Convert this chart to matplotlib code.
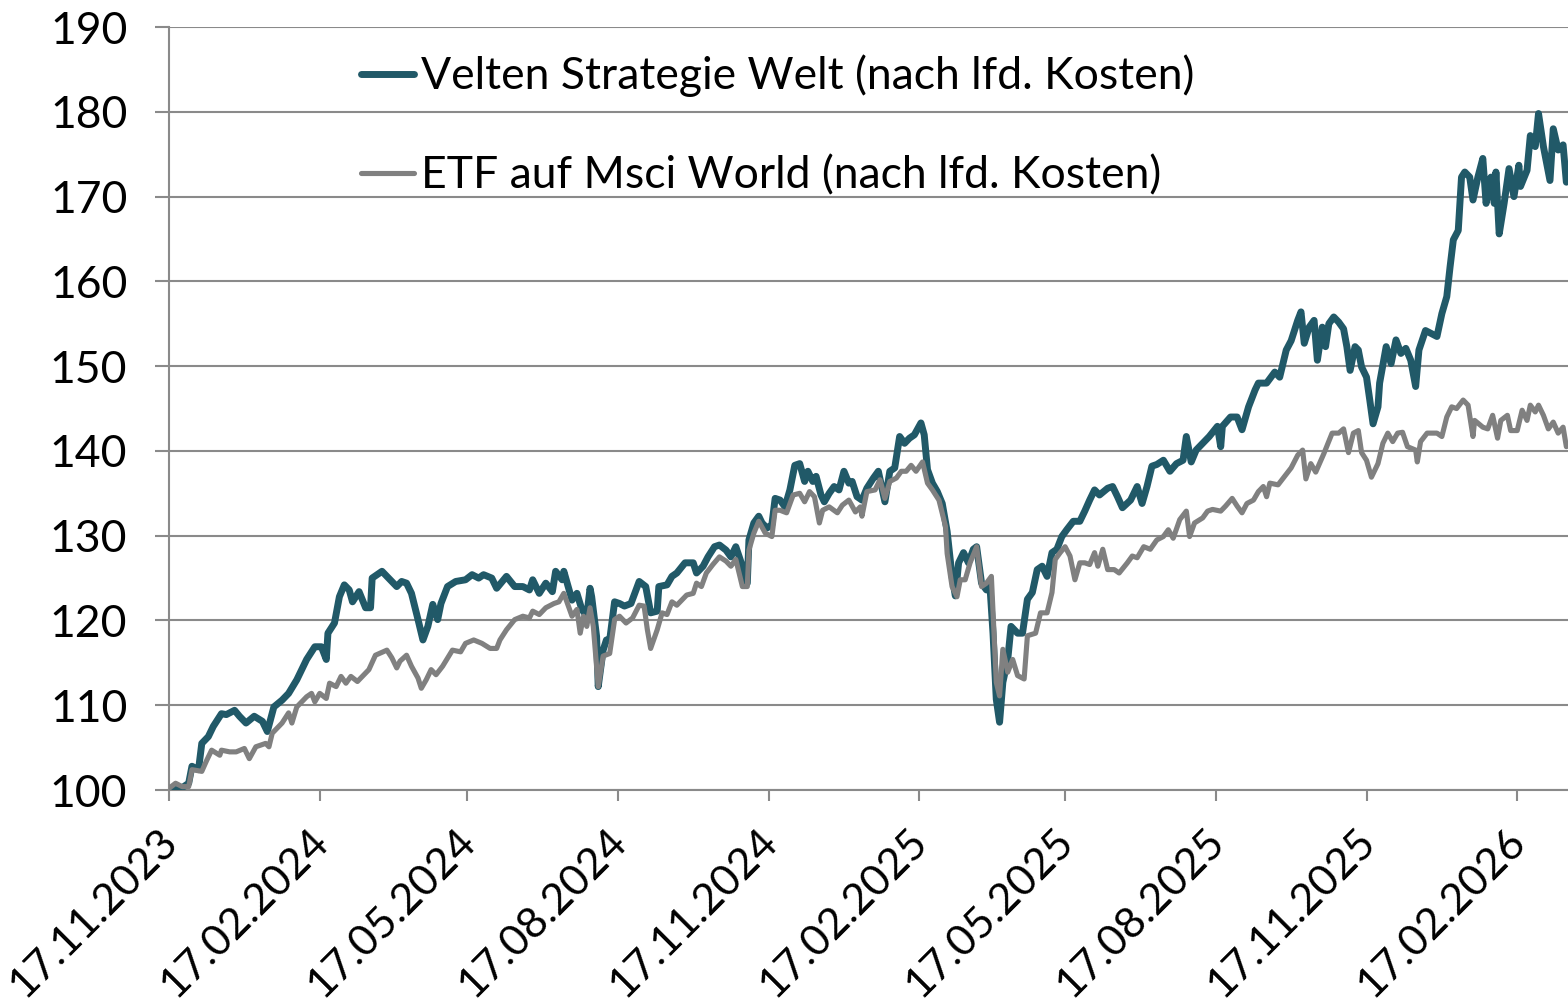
import pandas as pd
import matplotlib
matplotlib.use("Agg")
import matplotlib.pyplot as plt
import matplotlib.dates as mdates
from matplotlib.transforms import ScaledTranslation

plt.rcParams['font.family'] = ['Lato', 'DejaVu Sans']

start = pd.Timestamp('2023-11-17')

# Velten Strategie Welt: Tage seit 17.11.2023 und Indexwerte
velten_tage = [0, 6, 12, 14, 18, 20, 24, 27, 32, 35, 40, 43, 47, 52, 57, 60, 64, 69, 73, 78,
               84, 89, 93, 96, 97, 101, 104, 107, 110, 112, 116, 120, 123, 124, 130, 134, 139,
               142, 145, 148, 152, 155, 158, 161, 164, 166, 170, 175, 181, 185, 189, 192, 197,
               200, 206, 211, 216, 220, 222, 226, 230, 234, 236, 240, 241, 246, 249, 252, 255,
               257, 258, 261, 262, 265, 267, 269, 272, 275, 278, 282, 287, 291, 294, 298, 299,
               304, 307, 310, 315, 320, 322, 326, 329, 333, 336, 340, 343, 346, 350, 351, 353,
               354, 357, 360, 362, 365, 368, 370, 373, 376, 379, 382, 385, 388, 390, 393, 395,
               398, 400, 403, 406, 409, 412, 415, 417, 420, 423, 426, 430, 433, 437, 440, 443,
               446, 449, 452, 455, 459, 461, 463, 466, 469, 472, 475, 478, 480, 482, 485, 488,
               491, 493, 496, 499, 501, 503, 505, 507, 509, 512, 514, 518, 521, 524, 527, 530,
               533, 536, 539, 542, 545, 548, 552, 556, 559, 562, 565, 568, 573, 576, 579, 582,
               587, 591, 594, 597, 600, 603, 607, 611, 615, 619, 621, 624, 627, 631, 635, 640,
               642, 643, 648, 652, 655, 659, 663, 665, 670, 675, 678, 682, 685, 689, 691, 693,
               696, 699, 701, 704, 706, 708, 711, 714, 717, 719, 721, 724, 726, 728, 731, 733,
               735, 738, 739, 743, 746, 749, 752, 755, 758, 761, 763, 767, 771, 774, 777, 780,
               782, 784, 787, 789, 791, 794, 796, 799, 802, 804, 807, 809, 810, 812, 815, 818,
               821, 824, 825, 829, 831, 834, 836, 839, 843, 845, 848, 851, 853]
velten_werte = [100.2, 100.0, 100.8, 102.8, 102.4, 105.5, 106.3, 107.5, 109.0, 108.9, 109.4,
                108.7, 107.9, 108.7, 108.1, 106.9, 109.8, 110.6, 111.4, 113.0, 115.4, 116.9,
                116.9, 115.4, 118.5, 119.7, 122.8, 124.2, 123.6, 122.2, 123.4, 121.5, 121.5,
                125.0, 125.8, 125.0, 124.0, 124.6, 124.4, 123.2, 120.1, 117.7, 119.3, 121.9,
                120.1, 122.0, 124.0, 124.6, 124.8, 125.4, 125.0, 125.4, 125.0, 123.8, 125.2,
                124.0, 124.0, 123.6, 124.8, 123.2, 124.4, 123.4, 125.8, 124.8, 125.8, 122.4,
                123.2, 121.3, 120.5, 123.8, 122.8, 118.1, 112.2, 116.5, 117.7, 117.7, 122.2,
                122.0, 121.7, 122.0, 124.6, 124.0, 120.9, 121.1, 124.0, 124.2, 125.2, 125.6,
                126.8, 126.8, 125.6, 126.4, 127.5, 128.7, 128.9, 128.3, 127.5, 128.7, 126.4,
                124.4, 124.4, 129.5, 131.5, 132.3, 131.5, 130.9, 131.3, 134.4, 134.2, 133.4,
                135.4, 138.3, 138.5, 136.4, 137.6, 136.4, 137.0, 134.8, 134.0, 135.0, 135.8,
                135.4, 137.6, 136.2, 136.4, 134.6, 134.2, 135.6, 136.8, 137.6, 134.0, 137.6,
                138.0, 141.7, 140.9, 141.5, 141.9, 143.3, 141.9, 137.8, 136.2, 135.2, 133.8,
                130.5, 125.2, 122.9, 126.8, 128.0, 126.8, 128.4, 128.7, 124.4, 123.6, 124.4,
                118.5, 110.7, 108.0, 112.7, 115.4, 119.3, 118.5, 118.5, 122.5, 123.3, 126.0,
                126.4, 125.2, 128.0, 128.4, 129.9, 130.7, 131.7, 131.7, 132.9, 134.2, 135.4,
                134.8, 135.6, 135.8, 134.6, 133.3, 134.2, 135.8, 133.8, 135.8, 138.2, 138.4,
                138.9, 137.6, 138.5, 138.9, 141.7, 138.7, 140.1, 140.9, 141.7, 142.9, 140.5,
                142.9, 144.0, 144.0, 142.5, 145.2, 147.2, 148.0, 148.0, 149.3, 148.7, 151.9,
                153.0, 155.4, 156.4, 152.7, 154.6, 155.4, 150.7, 154.6, 152.3, 155.0, 155.8,
                155.2, 154.4, 152.3, 149.5, 152.3, 151.9, 149.9, 148.7, 146.0, 143.2, 145.2,
                148.0, 152.3, 150.3, 153.1, 151.5, 152.1, 150.7, 147.6, 151.9, 154.2, 153.8,
                153.5, 156.2, 158.2, 161.7, 164.9, 166.0, 172.3, 172.9, 172.3, 169.6, 172.3,
                174.5, 169.2, 172.3, 169.2, 172.9, 165.6, 169.2, 173.3, 170.0, 173.7, 171.2,
                173.1, 177.2, 175.9, 179.8, 175.9, 171.9, 178.0, 175.5, 176.1, 171.7]

# ETF auf MSCI World: Tage seit 17.11.2023 und Indexwerte
etf_tage = [0, 4, 8, 12, 14, 20, 23, 26, 31, 32, 37, 41, 46, 49, 53, 59, 61, 63, 69, 73, 75,
            78, 84, 87, 89, 92, 96, 98, 102, 105, 108, 111, 115, 118, 122, 126, 133, 136, 139,
            141, 145, 148, 152, 154, 157, 160, 163, 167, 173, 178, 181, 186, 191, 196, 200,
            202, 206, 211, 216, 220, 222, 226, 230, 235, 238, 241, 246, 249, 251, 253, 255,
            257, 259, 262, 265, 269, 272, 275, 279, 283, 287, 290, 292, 294, 298, 301, 304,
            307, 310, 313, 316, 320, 322, 325, 328, 332, 336, 340, 343, 346, 350, 353, 354,
            357, 360, 364, 368, 370, 373, 377, 381, 385, 388, 391, 394, 397, 399, 403, 408,
            411, 415, 419, 422, 423, 426, 431, 434, 437, 440, 444, 447, 450, 453, 456, 460,
            463, 466, 470, 474, 475, 478, 481, 483, 486, 489, 493, 496, 499, 502, 505, 507,
            509, 512, 515, 518, 522, 524, 529, 532, 536, 539, 541, 544, 547, 550, 553, 556,
            559, 562, 565, 567, 570, 573, 577, 580, 585, 588, 591, 595, 599, 603, 607, 610,
            613, 617, 621, 623, 626, 631, 634, 637, 642, 645, 649, 652, 655, 658, 662, 665,
            668, 670, 672, 677, 681, 685, 689, 692, 694, 697, 700, 705, 710, 714, 717, 720,
            723, 726, 728, 731, 734, 738, 741, 744, 747, 750, 753, 756, 761, 762, 764, 768,
            774, 777, 780, 783, 786, 790, 793, 796, 797, 802, 805, 808, 811, 813, 817, 819,
            823, 826, 829, 831, 834, 836, 839, 842, 845, 848, 851, 853]
etf_werte = [100.2, 100.8, 100.4, 100.4, 102.4, 102.2, 103.5, 104.7, 104.1, 104.7, 104.5,
             104.5, 104.9, 103.7, 105.1, 105.5, 105.1, 106.7, 107.9, 109.1, 107.9, 109.8,
             111.0, 111.4, 110.4, 111.4, 110.8, 112.6, 112.2, 113.4, 112.6, 113.4, 112.8,
             113.4, 114.2, 115.9, 116.5, 115.6, 114.4, 115.2, 115.9, 114.6, 113.2, 112.0,
             113.0, 114.2, 113.6, 114.6, 116.5, 116.3, 117.3, 117.7, 117.3, 116.7, 116.7,
             117.7, 118.9, 120.1, 120.5, 120.3, 121.1, 120.7, 121.5, 122.0, 122.2, 123.2,
             120.5, 121.3, 118.5, 120.5, 119.3, 121.5, 119.3, 112.2, 115.8, 116.1, 120.1,
             120.5, 119.7, 120.3, 121.8, 121.7, 118.9, 116.7, 118.9, 120.9, 120.7, 122.2,
             121.8, 122.4, 123.0, 123.2, 124.4, 124.0, 125.6, 126.6, 127.5, 127.0, 126.4,
             127.2, 124.0, 124.0, 128.3, 130.3, 131.7, 130.3, 129.9, 133.0, 133.0, 132.7,
             134.8, 135.0, 134.0, 135.2, 134.6, 131.5, 133.0, 133.4, 132.7, 133.6, 134.2,
             132.8, 133.4, 132.3, 135.2, 135.4, 136.6, 134.4, 136.4, 136.8, 137.6, 137.6,
             138.3, 137.6, 138.7, 136.2, 135.4, 134.2, 131.1, 127.9, 124.0, 122.8, 124.8,
             124.8, 126.8, 128.7, 124.0, 124.4, 125.2, 112.7, 111.1, 116.6, 113.9, 115.4,
             113.5, 113.1, 118.2, 118.5, 120.9, 120.9, 123.3, 127.2, 128.0, 128.7, 127.6,
             124.8, 126.8, 126.8, 126.6, 128.0, 126.4, 128.4, 126.0, 126.0, 125.6, 126.8,
             127.6, 127.4, 128.7, 128.4, 129.5, 129.9, 130.7, 129.7, 131.9, 132.9, 129.9,
             131.5, 132.1, 132.9, 133.1, 132.9, 133.5, 134.4, 133.5, 132.7, 133.8, 134.2,
             135.2, 135.8, 134.6, 136.2, 136.0, 137.0, 138.0, 139.5, 140.1, 136.7, 138.5,
             137.5, 139.7, 142.1, 142.1, 142.6, 139.8, 142.1, 142.4, 139.8, 138.9, 136.9,
             138.5, 140.9, 142.1, 141.1, 142.1, 142.2, 140.5, 140.1, 138.7, 141.1, 142.1,
             142.1, 141.7, 144.0, 145.2, 145.0, 146.0, 145.4, 141.7, 143.6, 142.8, 142.6,
             144.2, 141.5, 143.6, 144.2, 142.4, 142.4, 144.8, 143.6, 145.4, 144.6, 145.4,
             144.2, 142.6, 143.4, 142.1, 142.8, 140.5]

velten_daten = start + pd.to_timedelta(velten_tage, unit='D')
etf_daten = start + pd.to_timedelta(etf_tage, unit='D')

grau = '#8a8a8a'

fig = plt.figure(figsize=(15.68, 10.06), dpi=100)
ax = fig.add_axes([0.1078, 0.2147, 0.8922, 0.7584])

ax.plot(velten_daten, velten_werte, color='#215968', linewidth=5.0,
        label='Velten Strategie Welt (nach lfd. Kosten)', zorder=3, solid_capstyle='round')
ax.plot(etf_daten, etf_werte, color='#808080', linewidth=3.7,
        label='ETF auf Msci World (nach lfd. Kosten)', zorder=4, solid_capstyle='round')

ax.set_ylim(100, 190)
ax.set_yticks(range(100, 191, 10))
ax.set_xlim(start, start + pd.Timedelta(days=854))

ax.xaxis.set_major_locator(mdates.MonthLocator(bymonth=(2, 5, 8, 11), bymonthday=17))
ax.xaxis.set_major_formatter(mdates.DateFormatter('%d.%m.%Y'))

ax.grid(axis='y', color=grau, linewidth=1.5)
ax.set_axisbelow(True)
for s in ['top', 'right']:
    ax.spines[s].set_visible(False)
for s in ['left', 'bottom']:
    ax.spines[s].set_color(grau)
    ax.spines[s].set_linewidth(1.5)

ax.tick_params(axis='y', length=10, width=1.5, color=grau, labelsize=32, pad=20)
ax.tick_params(axis='x', length=8, width=1.5, color=grau, labelsize=31, pad=15)
verschiebung = ScaledTranslation(-8 / 72, 0, fig.dpi_scale_trans)
for lbl in ax.get_xticklabels():
    lbl.set_rotation(45)
    lbl.set_ha('right')
    lbl.set_va('top')
    lbl.set_rotation_mode('anchor')
    lbl.set_transform(lbl.get_transform() + verschiebung)

ax.legend(loc='upper left', bbox_to_anchor=(0.137, 0.964), frameon=False,
          fontsize=32, handlelength=1.2, handletextpad=0.15, labelspacing=1.3,
          borderaxespad=0, borderpad=0)

fig.savefig('out.png', dpi=100)
